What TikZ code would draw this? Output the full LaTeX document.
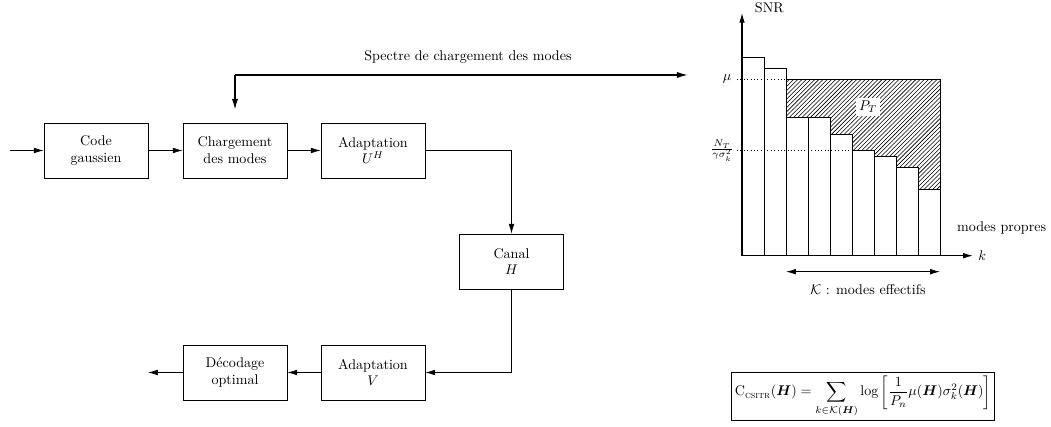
\documentclass[tikz,border=0pt]{standalone}
\usepackage{amsmath,amssymb}
\usetikzlibrary{arrows.meta,patterns}

\begin{document}
\begin{tikzpicture}[
  bloc/.style={draw, line width=0.5pt, minimum width=2.6cm, minimum height=1.375cm, align=center},
  fleche/.style={line width=0.5pt, -{Latex[length=7pt,width=4pt]}},
  barre/.style={draw, fill=white, line width=0.6pt}]
\useasboundingbox (0,0) rectangle (26.275,10.65);

% chaine de transmission
\node[bloc] (code) at (2.4,6.8875) {Code\\gaussien};
\node[bloc] (charge) at (5.875,6.8875) {Chargement\\des modes};
\node[bloc] (adaptU) at (9.325,6.8875) {Adaptation\\$U^H$};
\node[bloc] (canal) at (12.7875,4.1125) {Canal\\$H$};
\node[bloc] (adaptV) at (9.325,1.3375) {Adaptation\\$V$};
\node[bloc] (decod) at (5.875,1.3375) {D\'ecodage\\optimal};
\coordinate (entree) at (0.25,6.8875);
\coordinate (sortie) at (3.7,1.3375);

\draw[fleche] (entree) -- (code);
\draw[fleche] (code) -- (charge);
\draw[fleche] (charge) -- (adaptU);
\draw[fleche] (adaptU) -| (canal);
\draw[fleche] (canal) |- (adaptV);
\draw[fleche] (adaptV) -- (decod);
\draw[fleche] (decod) -- (sortie);

% spectre
\coordinate (coin) at (5.875,8.775);
\coordinate (finspectre) at (17.2,8.775);
\coordinate (descente) at (5.875,7.9);
\draw[line width=1.1pt, -{Latex[length=8pt,width=4.5pt]}] (coin) -- (finspectre);
\draw[line width=1.1pt, -{Latex[length=8pt,width=4.5pt]}] (coin) -- (descente);
\node (spectre) at (11.7,9.225) {Spectre de chargement des modes};

% allocation des modes
\begin{scope}[shift={(18.55,4.2575)}]
\fill[pattern=north east lines] (1.1,0) rectangle (4.95,4.41);
\draw[line width=0.6pt] (1.1,4.41) -- (4.95,4.41) -- (4.95,0);
\foreach \i/\h in {0/4.96, 1/4.685, 2/3.45, 3/3.45, 4/3.035, 5/2.625, 6/2.49, 7/2.21, 8/1.66}
  \draw[barre] (0.55*\i,0) rectangle (0.55*\i+0.55,\h);
\draw[line width=0.8pt, -{Latex[length=7pt,width=4pt]}] (0,0) -- (5.775,0) node[right] (k) {$k$};
\draw[line width=0.8pt, -{Latex[length=7pt,width=4pt]}] (0,0) -- (0,6.07) coordinate (haut);
\node[anchor=south west] (snr) at (0.2,5.95) {SNR};
\draw[dotted] (-0.125,4.41) -- (1.1,4.41);
\draw[dotted] (-0.125,2.625) -- (2.75,2.625);
\node (mu) at (-0.375,4.41) {$\mu$};
\node (seuil) at (-0.5,2.625) {$\frac{N_T}{\gamma\sigma_k^2}$};
\node[fill=white, inner sep=2pt] (pt) at (3.15,3.72) {$P_T$};
\node (propres) at (6.49,0.69) {modes propres};
\coordinate (kdeb) at (1.1,-0.4);
\coordinate (kfin) at (4.95,-0.4);
\draw[line width=0.6pt, {Latex[length=7pt,width=4pt]}-{Latex[length=7pt,width=4pt]}] (kdeb) -- (kfin);
\node (effectifs) at (3.15,-0.85) {$\mathcal{K}$ : modes effectifs};
\end{scope}

% capacite
\node[draw, line width=0.5pt, inner sep=2.5pt] (capa) at (21.575,0.74)
  {$\displaystyle \mathrm{C}_{\text{\textsc{csitr}}}(\boldsymbol{H}) = \sum_{k\in\mathcal{K}(\boldsymbol{H})} \log\left[\frac{1}{P_n}\mu(\boldsymbol{H})\sigma_k^2(\boldsymbol{H})\right]$};
\end{tikzpicture}
\end{document}
